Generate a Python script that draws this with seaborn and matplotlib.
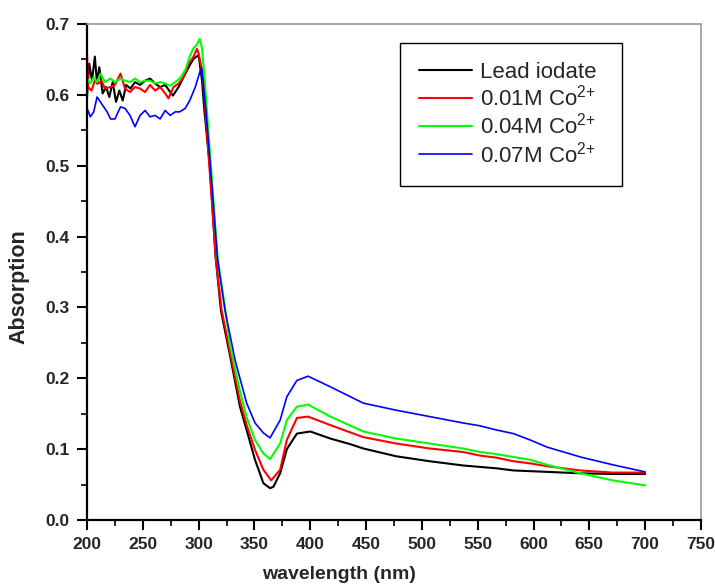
import matplotlib
matplotlib.use('Agg')
import matplotlib.pyplot as plt
from matplotlib.ticker import MultipleLocator
import seaborn as sns
import pandas as pd

# Spectra (wavelength in nm, absorption)
lead_wl = [200, 202, 204.5, 207, 209, 211, 214, 217, 220, 223, 226, 229, 232, 235, 239,
           243, 247.5, 252, 256.5, 261, 265.5, 270, 274.5, 277, 282, 286.5, 291, 295.5,
           300, 303, 305, 310, 315, 320, 328, 337, 343, 350.5, 358, 364, 367, 373, 379,
           388, 400, 418, 436, 447.5, 477, 507, 537, 552, 567, 582, 612, 642, 671, 700]
lead_abs = [0.597, 0.644, 0.620, 0.654, 0.616, 0.639, 0.602, 0.611, 0.597, 0.618, 0.590,
            0.606, 0.592, 0.614, 0.609, 0.618, 0.614, 0.620, 0.623, 0.616, 0.611, 0.614,
            0.604, 0.599, 0.611, 0.625, 0.639, 0.651, 0.656, 0.620, 0.580, 0.500, 0.375,
            0.295, 0.233, 0.160, 0.127, 0.085, 0.052, 0.045, 0.047, 0.066, 0.100, 0.122,
            0.125, 0.115, 0.107, 0.101, 0.090, 0.083, 0.077, 0.075, 0.073, 0.070, 0.068,
            0.066, 0.065, 0.065]

co01_wl = [200, 201, 204, 207, 210, 213, 216, 221, 225, 230, 234, 238.5, 243, 247.5, 252,
           256.5, 261, 265.5, 270, 273, 277.5, 282, 286.5, 291, 295.5, 298.5, 300, 303,
           305, 310, 315.5, 320.6, 328, 337, 343, 350.5, 358, 365, 373, 379, 388, 398,
           418, 447.5, 477, 507, 537, 552, 567, 582, 597, 612, 642, 671, 700]
co01_abs = [0.658, 0.611, 0.606, 0.620, 0.616, 0.620, 0.609, 0.611, 0.614, 0.630, 0.609,
            0.604, 0.611, 0.609, 0.604, 0.614, 0.606, 0.611, 0.602, 0.595, 0.611, 0.616,
            0.625, 0.644, 0.654, 0.665, 0.658, 0.635, 0.600, 0.490, 0.367, 0.296, 0.238,
            0.168, 0.134, 0.099, 0.071, 0.056, 0.071, 0.113, 0.144, 0.146, 0.134, 0.117,
            0.108, 0.101, 0.096, 0.091, 0.088, 0.083, 0.080, 0.076, 0.070, 0.067, 0.067]

co04_wl = [200, 203, 206, 209, 212, 216, 221, 225, 230, 234, 238.5, 243, 247.5, 252,
           256.5, 261, 265.5, 270, 274.5, 279, 283, 288, 292, 295, 298, 301, 303, 305.5,
           310, 317, 323.6, 328, 337, 343, 350.5, 358, 364, 373, 379, 388, 398, 418,
           447.5, 477, 507, 537, 552, 567, 582, 597, 612, 642, 671, 700]
co04_abs = [0.623, 0.616, 0.625, 0.618, 0.630, 0.618, 0.623, 0.618, 0.623, 0.620, 0.618,
            0.623, 0.618, 0.620, 0.620, 0.616, 0.618, 0.616, 0.613, 0.618, 0.623, 0.635,
            0.654, 0.665, 0.670, 0.679, 0.665, 0.620, 0.520, 0.370, 0.300, 0.248, 0.182,
            0.145, 0.113, 0.094, 0.086, 0.108, 0.141, 0.160, 0.163, 0.146, 0.125, 0.115,
            0.108, 0.101, 0.096, 0.093, 0.089, 0.085, 0.078, 0.066, 0.056, 0.049]

co07_wl = [200, 203, 206, 209, 212, 215, 218, 221, 225, 230, 234, 238.5, 243, 247.5, 252,
           256.5, 261, 265.5, 270, 274.5, 279, 283, 288, 292, 297, 301, 302.5, 304, 307,
           310, 317, 323.6, 328, 332.6, 337, 343, 350.5, 358, 364, 373, 379, 388, 398,
           418, 447.5, 477, 507, 537, 552, 567, 582, 597, 612, 642, 671, 700]
co07_abs = [0.581, 0.569, 0.576, 0.597, 0.590, 0.583, 0.576, 0.566, 0.566, 0.583, 0.581,
            0.571, 0.555, 0.571, 0.578, 0.569, 0.571, 0.566, 0.578, 0.571, 0.576, 0.576,
            0.581, 0.592, 0.611, 0.632, 0.638, 0.620, 0.569, 0.510, 0.367, 0.296, 0.262,
            0.226, 0.200, 0.165, 0.137, 0.123, 0.116, 0.141, 0.174, 0.197, 0.203, 0.188,
            0.165, 0.155, 0.146, 0.137, 0.133, 0.127, 0.122, 0.113, 0.103, 0.089, 0.078,
            0.068]

labels = ['Lead iodate', '0.01M Co$^{2{+}}$', '0.04M Co$^{2{+}}$', '0.07M Co$^{2{+}}$']
colors = ['#000000', '#ff0000', '#00ff00', '#0000ff']
widths = [1.5, 1.5, 1.5, 1.2]
series = [(lead_wl, lead_abs), (co01_wl, co01_abs), (co04_wl, co04_abs), (co07_wl, co07_abs)]

sns.set_theme(style='ticks')
plt.rcParams['font.family'] = ['Liberation Sans', 'DejaVu Sans']
plt.rcParams['mathtext.default'] = 'regular'

fig = plt.figure(figsize=(7.15, 5.85), dpi=100)
ax = fig.add_axes([0.1217, 0.111, 0.8587, 0.848])

for (wl, ab), lab, col, lw in zip(series, labels, colors, widths):
    df = pd.DataFrame({'wavelength': wl, 'absorption': ab})
    sns.lineplot(data=df, x='wavelength', y='absorption', color=col, linewidth=lw,
                 label=lab, ax=ax, sort=False, estimator=None)

ax.set_xlim(200, 750)
ax.set_ylim(0, 0.7)
ax.xaxis.set_major_locator(MultipleLocator(50))
ax.xaxis.set_minor_locator(MultipleLocator(25))
ax.yaxis.set_major_locator(MultipleLocator(0.1))
ax.yaxis.set_minor_locator(MultipleLocator(0.05))
ax.tick_params(which='major', direction='out', length=7.5, width=1.5, labelsize=12.5,
               pad=5, color='black')
ax.tick_params(which='minor', direction='out', length=4, width=1.2, color='black')
for t in ax.get_xticklabels() + ax.get_yticklabels():
    t.set_fontweight('bold')

for side in ['left', 'bottom']:
    ax.spines[side].set_color('black')
    ax.spines[side].set_linewidth(1.6)
for side in ['top', 'right']:
    ax.spines[side].set_color('#9a9a9a')
    ax.spines[side].set_linewidth(1.2)

ax.set_xlabel('wavelength (nm)', fontsize=14, fontweight='bold')
ax.set_ylabel('Absorption', fontsize=15.5, fontweight='bold')
ax.xaxis.set_label_coords(0.41, -0.093)
ax.yaxis.set_label_coords(-0.093, 0.47)

leg = ax.legend(loc='upper left', bbox_to_anchor=(0.51, 0.0, 0.3616, 0.962), mode='expand',
                fontsize=16, frameon=True, fancybox=False, edgecolor='black', framealpha=1,
                handlelength=2.4, handletextpad=0.35, labelspacing=0.1, borderpad=0.85,
                borderaxespad=0)
leg.get_frame().set_linewidth(1.0)

fig.savefig('out.png', dpi=100)
